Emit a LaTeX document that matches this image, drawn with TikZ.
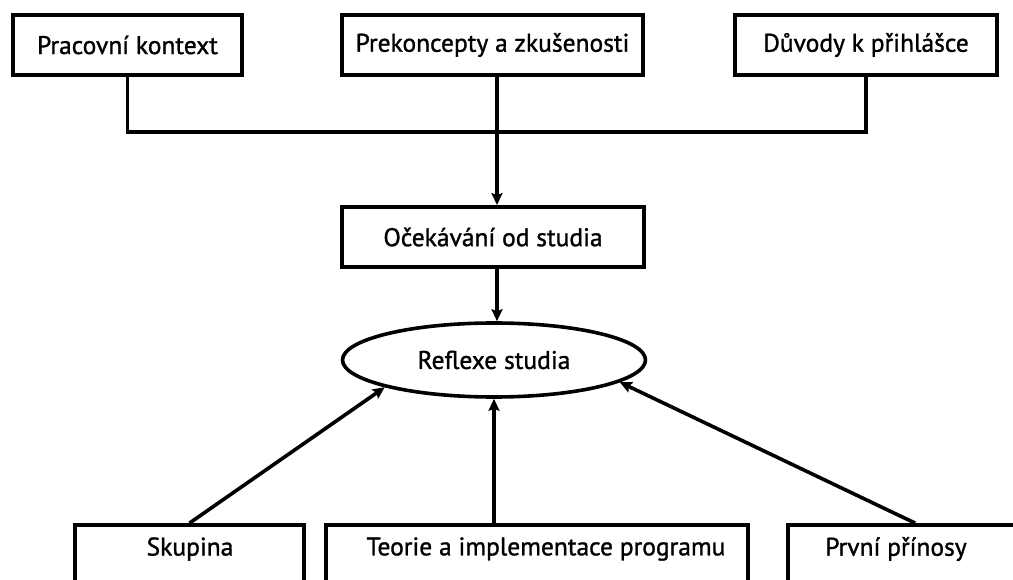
\documentclass[tikz,border=0pt]{standalone}
\usepackage{fontspec}
\setmainfont[FakeBold=1.2]{PT Sans}
\usetikzlibrary{shapes.geometric,arrows.meta}
\begin{document}
\begin{tikzpicture}[x=1pt,y=-1pt,
  box/.style={draw,line width=3.8pt,rectangle,inner sep=0pt},
  lbl/.style={font=\fontsize{25.5}{28}\selectfont},
  conn/.style={line width=3.6pt},
  arr/.style={line width=3.6pt,-{Stealth[length=12pt,width=11pt,inset=2pt]}}]
\useasboundingbox (0,0) rectangle (1013,580);
\clip (0,0) rectangle (1013,580);
% top row
\node[box,lbl,minimum width=229pt,minimum height=60pt] (pk) at (127.5,45) {Pracovní kontext};
\node[box,lbl,minimum width=301pt,minimum height=60pt] (pr) at (492.5,45) {Prekoncepty a zkušenosti};
\node[box,lbl,minimum width=262pt,minimum height=60pt] (dv) at (866,45) {Důvody k přihlášce};
\coordinate (jn) at (497,132);
% middle
\node[box,lbl,minimum width=302pt,minimum height=60pt] (ok) at (493,237) {Očekávání od studia};
\node[draw,line width=3.6pt,ellipse,inner sep=0pt,lbl,minimum width=303pt,minimum height=74pt] (refl) at (494,360) {Reflexe studia};
% bottom row boxes (cut by the frame)
\node[box,minimum width=229pt,minimum height=95pt] (sk) at (189.5,572.5) {};
\node[box,minimum width=422pt,minimum height=95pt] (th) at (537,572.5) {};
\node[box,minimum width=252pt,minimum height=95pt] (pp) at (914,572.5) {};
\node[lbl] (skt) at (190,549) {Skupina};
\node[lbl] (tht) at (546,549) {Teorie a implementace programu};
\node[lbl] (ppt) at (896,549) {První přínosy};
% connectors
\draw[conn] (pk.south) |- (jn) -| (dv.south);
\draw[arr] (jn |- pr.south) -- (jn |- ok.north);
\draw[arr] (jn |- ok.south) -- (jn |- refl.north);
\draw[arr] (sk.north) -- (refl.194);
\draw[arr] (refl.south |- th.north) -- (refl.south);
\draw[arr] (pp.north west) ++(129,0) coordinate (ppa) (ppa) -- (refl.350);
\end{tikzpicture}
\end{document}
